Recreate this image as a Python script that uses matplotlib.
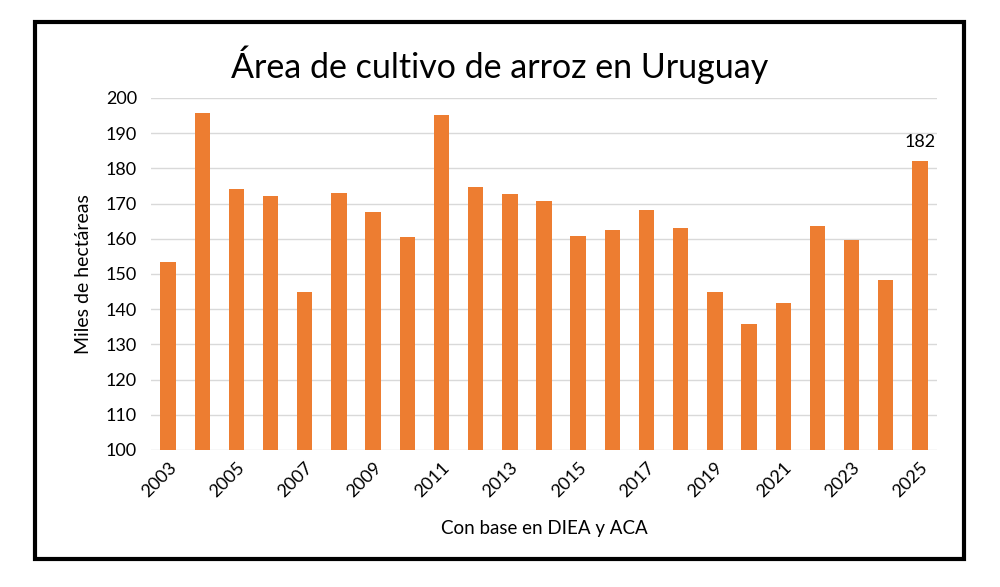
import matplotlib
matplotlib.use("Agg")
import matplotlib.pyplot as plt
from matplotlib.patches import Rectangle

# Datos (miles de hectáreas)
years = list(range(2003, 2026))
area = [153.3, 195.7, 174.1, 172.3, 144.9, 173.0, 167.5, 160.4, 195.1, 174.6,
        172.8, 170.8, 160.9, 162.4, 168.2, 163.0, 144.9, 135.9, 141.9, 163.7,
        159.7, 148.4, 182.1]
tick_years = years[::2]

plt.rcParams['font.family'] = ['Lato', 'DejaVu Sans']

fig = plt.figure(figsize=(10, 5.87), dpi=100)
ax = fig.add_axes([0.151, 1 - 450 / 587, 0.786, (450 - 98) / 587])

x = list(range(len(years)))
ax.bar(x, area, width=0.45, color='#ED7D31', zorder=3)

ax.set_ylim(100, 200)
ax.set_xlim(-0.5, len(years) - 0.5)
ax.set_yticks(range(100, 201, 10))
ax.set_xticks([years.index(y) for y in tick_years])
ax.set_xticklabels([str(y) for y in tick_years], rotation=45, ha='right',
                   rotation_mode='anchor', fontsize=13)
ax.tick_params(axis='y', labelsize=13, length=0, pad=10)
ax.tick_params(axis='x', length=0, pad=7)
ax.grid(axis='y', color='#D9D9D9', linewidth=1, zorder=0)
for s in ax.spines.values():
    s.set_visible(False)

ax.set_ylabel('Miles de hectáreas', fontsize=14, labelpad=10)
ax.set_xlabel('Con base en DIEA y ACA', fontsize=13.5, labelpad=14)
fig.text(0.5, 1 - 65 / 587, 'Área de cultivo de arroz en Uruguay',
         fontsize=24.5, ha='center', va='center')

# etiqueta del último valor
ax.annotate(f'{round(area[-1])}', (x[-1], area[-1]), xytext=(0, 8),
            textcoords='offset points', ha='center', va='bottom', fontsize=13)

# marco negro
fig.patches.append(Rectangle((35 / 1000, 1 - 559 / 587), (964 - 35) / 1000,
                             (559 - 22) / 587, transform=fig.transFigure,
                             fill=False, edgecolor='black', linewidth=3))

fig.savefig('out.png', dpi=100)
